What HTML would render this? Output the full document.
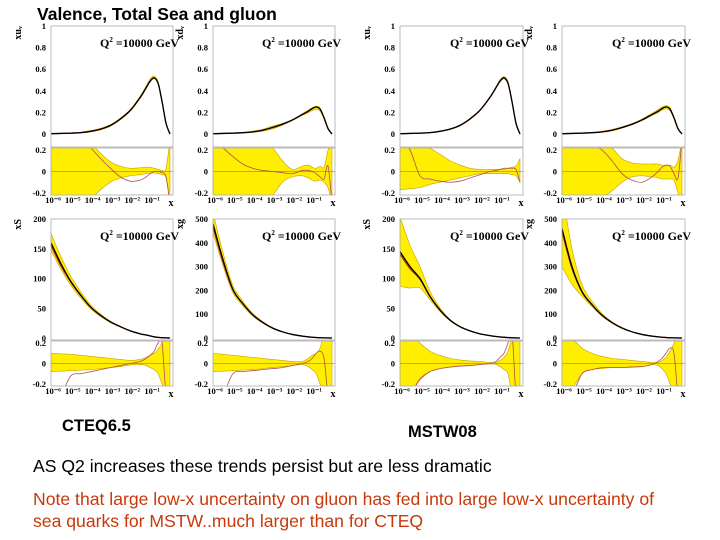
<!DOCTYPE html>
<html><head><meta charset="utf-8">
<style>
html,body{margin:0;padding:0;background:#fff;}
#wrap{position:relative;width:720px;height:540px;overflow:hidden;font-family:"Liberation Sans",sans-serif;}
.t{position:absolute;white-space:nowrap;}
</style></head><body>
<div id="wrap">
<div class="t" style="left:37px;top:4px;font-size:17.5px;font-weight:bold;">Valence, Total Sea and gluon</div>
<svg id="chart" width="720" height="410" style="position:absolute;left:0;top:0;"></svg>
<div class="t" style="left:62px;top:417px;font-size:16.5px;font-weight:bold;">CTEQ6.5</div>
<div class="t" style="left:408px;top:423px;font-size:16.5px;font-weight:bold;">MSTW08</div>
<div class="t" style="left:33px;top:456px;font-size:17.6px;">AS Q2 increases these trends persist but are less dramatic</div>
<div class="t" style="left:33px;top:488px;font-size:17.6px;color:#c8380a;line-height:22px;">Note that large low-x uncertainty on gluon has fed into large low-x uncertainty of<br>sea quarks for MSTW..much larger than for CTEQ</div>
</div>
<script>
const logx=[-6,-5.5,-5,-4.5,-4,-3.5,-3,-2.5,-2,-1.5,-1.2,-1,-0.8,-0.6,-0.4,-0.2,0];
const uvC=[0.003,0.005,0.008,0.013,0.025,0.045,0.08,0.14,0.22,0.34,0.43,0.49,0.52,0.47,0.3,0.1,0];
const dvC=[0.003,0.005,0.008,0.012,0.02,0.035,0.06,0.09,0.13,0.18,0.21,0.235,0.25,0.23,0.15,0.05,0];
const seaCteq=[160,125,95,72,52,38,27,19,12,7,5,3.5,2,1,0.5,0.2,0];
const seaMstw=[145,120,100,70,47,30,19,12,7,4,2.5,1.8,1.2,0.7,0.3,0.1,0];
const gCteq=[480,330,205,145,98,66,42,26,15,8,5,3,2,1,0.5,0.2,0];
const gMstw=[460,300,195,140,96,65,42,26,15,8,5,3,2,1,0.5,0.2,0];
const r1u=[.5,.45,.4,.33,.26,.17,.09,.05,.03,.035,.04,.04,.03,.02,.01,.03,.3], r1d=[-.5,-.45,-.4,-.33,-.26,-.17,-.1,-.06,-.04,-.03,-.02,-.015,-.015,-.02,-.03,-.06,-.3], r1r=[.5,.45,.4,.3,.22,.12,.03,-.05,-.09,-.08,-.05,-.02,0,0,-.01,-.05,-.3];
const r2u=[.5,.45,.4,.35,.3,.26,.22,.1,.02,.05,.06,.04,.03,.05,.04,.2,.3], r2d=[-.5,-.45,-.4,-.35,-.3,-.26,-.22,-.1,-.05,-.04,-.06,-.08,-.09,-.08,-.1,-.15,-.3], r2r=[.3,.22,.14,.07,.03,.01,0,-.01,-.02,.01,.01,0,-.02,-.05,-.07,.05,-.3];
const r3u=[.4,.35,.3,.22,.16,.1,.06,.03,.02,.02,.02,.02,.02,.03,.04,.05,.12], r3d=[-.17,-.16,-.15,-.12,-.1,-.08,-.06,-.04,-.02,-.02,-.02,-.02,-.02,-.02,-.03,-.04,-.1], r3r=[.3,.2,-.04,-.07,-.09,-.1,-.09,-.06,-.03,0,.01,.02,.03,.03,.03,.02,-.1];
const r4u=[.3,.3,.3,.3,.3,.22,.12,.08,.07,.07,.07,.06,.05,.06,.04,.1,.3], r4d=[-.4,-.35,-.32,-.28,-.24,-.18,-.1,-.05,-.04,-.05,-.06,-.07,-.07,-.07,-.08,-.2,-.3], r4r=[.3,.3,.3,.25,.2,.1,-.02,-.08,-.1,-.05,0,.04,.06,.05,-.02,-.06,.3];
const r5u=[.1,.095,.09,.08,.07,.06,.05,.04,.03,.04,.06,.08,.1,.14,.2,.3,.3], r5d=[-.08,-.075,-.07,-.065,-.06,-.05,-.04,-.03,-.015,-.01,-.02,-.04,-.06,-.1,-.2,-.3,-.3], r5r=[-.3,-.3,-.12,-.1,-.08,-.06,-.04,-.02,0,.02,.05,.08,.12,.2,.2,-.3,-.3];
const r6u=[.1,.09,.08,.07,.06,.05,.04,.03,.02,.02,.05,.08,.1,.15,.3,.3,.3], r6d=[-.08,-.075,-.07,-.065,-.06,-.05,-.04,-.03,-.02,-.01,-.03,-.06,-.1,-.2,-.3,-.3,-.3], r6r=[-.3,-.3,-.1,-.08,-.07,-.06,-.05,-.04,-.02,0,.02,.05,.1,.12,.05,-.3,-.3];
const r7u=[.4,.3,.2,.12,.08,.05,.035,.025,.02,.01,.01,.03,.06,.12,.25,.3,.3], r7d=[-.4,-.3,-.16,-.08,-.05,-.035,-.025,-.02,-.01,-.005,-.01,-.03,-.06,-.1,-.3,-.3,-.3], r7r=[-.3,-.3,-.15,-.08,-.05,-.035,-.025,-.02,-.01,0,.02,.06,.1,.2,.3,-.3,-.3];
const r8u=[.35,.25,.15,.1,.07,.05,.04,.03,.02,.01,.01,.03,.06,.12,.2,.3,.3], r8d=[-.35,-.25,-.1,-.06,-.05,-.04,-.04,-.03,-.03,-.01,-.02,-.05,-.1,-.2,-.3,-.3,-.3], r8r=[-.3,-.3,-.1,-.06,-.04,-.04,-.04,-.035,-.03,-.01,.02,.05,.1,.15,.1,-.3,-.3];
const xTicks=["10\u207B\u2076","10\u207B\u2075","10\u207B\u2074","10\u207B\u00B3","10\u207B\u00B2","10\u207B\u00B9"];
const valTicks=["0","0.2","0.4","0.6","0.8","1"];
const seaTicks=["0","50","100","150","200"];
const gTicks=["0","100","200","300","400","500"];

const NS="http://www.w3.org/2000/svg";
const svg=document.getElementById('chart');
function mk(tag,attrs,parent){const e=document.createElementNS(NS,tag);for(const k in attrs)e.setAttribute(k,attrs[k]);(parent||svg).appendChild(e);return e;}
function smooth(pts){ // catmull-rom to bezier
  let d='M'+pts[0][0].toFixed(2)+','+pts[0][1].toFixed(2);
  for(let i=0;i<pts.length-1;i++){
    const p0=pts[Math.max(0,i-1)],p1=pts[i],p2=pts[i+1],p3=pts[Math.min(pts.length-1,i+2)];
    const c1=[p1[0]+(p2[0]-p0[0])/6,p1[1]+(p2[1]-p0[1])/6],c2=[p2[0]-(p3[0]-p1[0])/6,p2[1]-(p3[1]-p1[1])/6];
    d+=' C'+c1.map(v=>v.toFixed(2)).join(',')+' '+c2.map(v=>v.toFixed(2)).join(',')+' '+p2[0].toFixed(2)+','+p2[1].toFixed(2);
  }
  return d;
}
function smoothBand(a,b){const bb=b.slice().reverse();return smooth(a)+' L'+bb[0][0]+','+bb[0][1]+' '+smooth(bb).slice(1).replace(/^[^C]*/,'')+' Z';}
let cid=0;
function panel(name,x0,x1,top,zero,fbot,rtop,rbot,ymax,ticks,ylab,c,ru,rd,rr){
  const g=mk('g',{});
  
  
  const sx=v=>x0+(v+6)/6*(x1-3-x0);
  const sy=v=>zero-(v/ymax)*(zero-top);
  const rz=(rtop+rbot)/2, rs=(rbot-rtop-4)/2/0.2;
  const ry=v=>rz-v*rs;
  cid++;
  const cp=mk('clipPath',{id:'cm'+cid},g);mk('rect',{x:x0,y:top,width:x1-x0,height:fbot-top},cp);
  const cr=mk('clipPath',{id:'cr'+cid},g);mk('rect',{x:x0,y:rtop,width:x1-x0,height:rbot-rtop},cr);
  const mg=mk('g',{'clip-path':'url(#cm'+cid+')'},g);
  let up=logx.map((l,i)=>[sx(l),sy(c[i]*(1+ru[i]))]), dn=logx.map((l,i)=>[sx(l),sy(c[i]*(1+rd[i]))]);
  const band=mk('path',{d:smoothBand(up,dn),fill:'#ffee00',stroke:'#c8a000','stroke-width':0.6},mg);
  
  
  const alt=mk('path',{d:smooth(logx.map((l,i)=>[sx(l),sy(c[i]*(1+rr[i]*0.1))])),fill:'none',stroke:'#b03030','stroke-width':1.2},mg);
  
  
  const cen=mk('path',{d:smooth(logx.map((l,i)=>[sx(l),sy(c[i])])),fill:'none',stroke:'#000','stroke-width':1.3},mg);
  
  
  const rg=mk('g',{'clip-path':'url(#cr'+cid+')'},g);
  up=logx.map((l,i)=>[sx(l),ry(ru[i])]); dn=logx.map((l,i)=>[sx(l),ry(rd[i])]);
  const rb=mk('path',{d:smoothBand(up,dn),fill:'#ffee00',stroke:'#c8a000','stroke-width':0.6},rg);
  
  
  mk('line',{x1:x0,x2:x1,y1:rz,y2:rz,stroke:'#c89000','stroke-width':0.8},rg);
  const rl=mk('path',{d:smooth(logx.map((l,i)=>[sx(l),ry(rr[i])])),fill:'none',stroke:'#b05050','stroke-width':0.8},rg);
  
  
  mk('rect',{x:x0,y:top,width:x1-x0,height:fbot-top,fill:'none',stroke:'#aaa','stroke-width':0.8},g);
  mk('rect',{x:x0,y:rtop,width:x1-x0,height:rbot-rtop,fill:'none',stroke:'#aaa','stroke-width':0.8},g);
  const tf='font-family:"Liberation Serif",serif;font-weight:bold;font-size:8.5px;';
  ticks.forEach((t,i)=>{const v=i*ymax/(ticks.length-1);const tx=mk('text',{x:x0-5,y:sy(v)+3,'text-anchor':'end',style:tf},g);tx.textContent=t;});
  [["0.2",0.2],["0",0],["-0.2",-0.2]].forEach(a=>{const tx=mk('text',{x:x0-5,y:ry(a[1])+3,'text-anchor':'end',style:tf},g);tx.textContent=a[0];});
  xTicks.forEach((t,i)=>{const tx=mk('text',{x:sx(-6+i)+2,y:rbot+8,'text-anchor':'middle',style:tf},g);tx.textContent=t;});
  const xl=mk('text',{x:x1-2,y:rbot+11,'text-anchor':'middle',style:tf+'font-size:10px;'},g);xl.textContent='x';
  const yl=mk('text',{x:0,y:0,'text-anchor':'end',transform:`translate(${x0-30},${top}) rotate(-90)`,style:tf+'font-size:10px;'},g);yl.textContent=ylab;
  const q=mk('text',{x:x1+6,y:top+21,'text-anchor':'end',style:'font-family:"Liberation Serif",serif;font-weight:bold;font-size:12px;'},g);
  q.innerHTML='Q<tspan dy="-5" font-size="7">2</tspan><tspan dy="5"> =10000 GeV</tspan>';
}
panel('cteq-uv-panel',51,173,26,134,147,148,195,1,valTicks,'xu\u1D65',uvC,r1u,r1d,r1r);
panel('cteq-dv-panel',213,335,26,134,147,148,195,1,valTicks,'xd\u1D65',dvC,r2u,r2d,r2r);
panel('mstw-uv-panel',400,523,26,134,147,148,195,1,valTicks,'xu\u1D65',uvC,r3u,r3d,r3r);
panel('mstw-dv-panel',562,685,26,134,147,148,195,1,valTicks,'xd\u1D65',dvC,r4u,r4d,r4r);
panel('cteq-sea-panel',51,173,219,338,340,341,386,200,seaTicks,'xS',seaCteq,r5u,r5d,r5r);
panel('cteq-gluon-panel',213,335,219,338,340,341,386,500,gTicks,'xg',gCteq,r6u,r6d,r6r);
panel('mstw-sea-panel',400,523,219,338,340,341,386,200,seaTicks,'xS',seaMstw,r7u,r7d,r7r);
panel('mstw-gluon-panel',562,685,219,338,340,341,386,500,gTicks,'xg',gMstw,r8u,r8d,r8r);
</script>
</body></html>
